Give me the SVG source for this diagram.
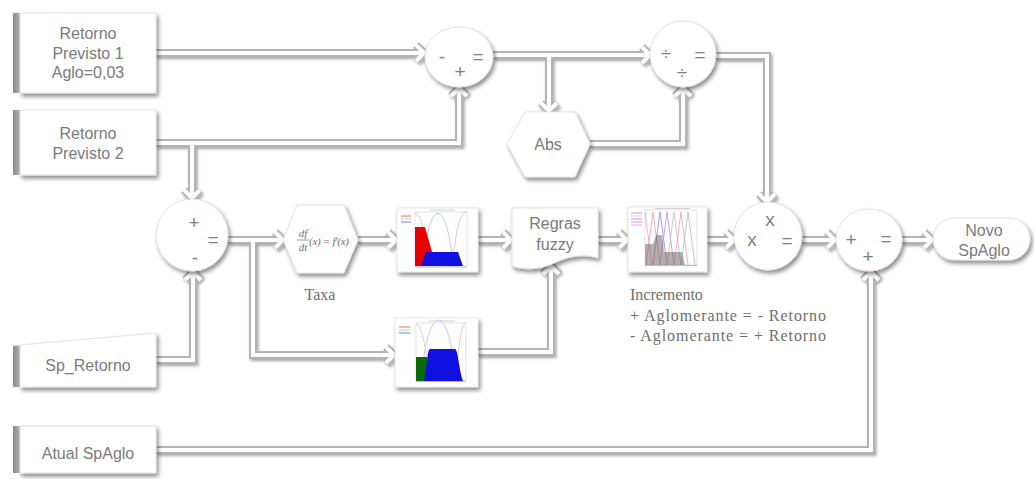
<svg xmlns="http://www.w3.org/2000/svg" width="1034" height="479" viewBox="0 0 1034 479">
<defs>
<style>
.t{font-family:"Liberation Sans",Arial,sans-serif;font-size:16px;fill:#7a7a7a;text-anchor:middle}
.sym{font-family:"Liberation Sans",Arial,sans-serif;font-size:19px;fill:#808080;text-anchor:middle}
.sf{font-family:"Liberation Serif","Times New Roman",serif;fill:#6e6e6e}
.node{fill:#fff;stroke:#e2e2e2;stroke-width:1;filter:url(#sh)}
.strip{fill:url(#lg)}
.pf{fill:#fff;stroke:#e0e0e0;stroke-width:0.8;filter:url(#sh)}
.ax{fill:none;stroke:#d0d0d0;stroke-width:0.6}
</style>
<filter id="sh" x="-20%" y="-20%" width="150%" height="150%">
<feDropShadow dx="2" dy="3" stdDeviation="2.2" flood-color="#000" flood-opacity="0.45"/>
</filter>
<filter id="psh" x="-5%" y="-5%" width="110%" height="110%">
<feDropShadow dx="1.5" dy="2" stdDeviation="1.8" flood-color="#000" flood-opacity="0.35"/>
</filter>
<linearGradient id="lg" x1="0" y1="0" x2="1" y2="0">
<stop offset="0" stop-color="#8a8a8a"/>
<stop offset="1" stop-color="#c8c8c8"/>
</linearGradient>
<g id="pipes" fill="none">
<path d="M156,53 H424"/><path d="M416,45 L424,53 L416,61"/>
<path d="M156,143 H459 V88"/><path d="M451,96 L459,88 L467,96"/>
<path d="M192,143 V198"/><path d="M184,190 L192,198 L200,190"/>
<path d="M493,55 H650"/><path d="M642,47 L650,55 L642,63"/>
<path d="M549,55 V111"/><path d="M541,103 L549,111 L557,103"/>
<path d="M590,144 H683 V88"/><path d="M675,96 L683,88 L691,96"/>
<path d="M716,56 H767 V202"/><path d="M759,194 L767,202 L775,194"/>
<path d="M156,360 H193 V272"/><path d="M185,280 L193,272 L201,280"/>
<path d="M228,240 H283"/><path d="M275,232 L283,240 L275,248"/>
<path d="M253,240 V355 H394"/><path d="M386,347 L394,355 L386,363"/>
<path d="M358,240 H396"/><path d="M388,232 L396,240 L388,248"/>
<path d="M478,240 H511"/><path d="M503,232 L511,240 L503,248"/>
<path d="M478,352 H551 V266"/><path d="M543,274 L551,266 L559,274"/>
<path d="M598,240 H627"/><path d="M619,232 L627,240 L619,248"/>
<path d="M707,240 H734"/><path d="M726,232 L734,240 L726,248"/>
<path d="M802,240 H835"/><path d="M827,232 L835,240 L827,248"/>
<path d="M902,240 H932"/><path d="M924,232 L932,240 L924,248"/>
<path d="M156,450 H871 V272"/><path d="M863,280 L871,272 L879,280"/>
</g>
</defs>
<rect width="1034" height="479" fill="#fff"/>

<g id="connectors" stroke-linejoin="miter" stroke-linecap="butt">
<use href="#pipes" stroke="#b4b4b4" stroke-width="8" filter="url(#psh)"/>
<use href="#pipes" stroke="#ffffff" stroke-width="4"/>
</g>

<g id="n-rp1">
<rect class="strip" x="13" y="13" width="10" height="80"/>
<rect class="node" x="20" y="13" width="136" height="80"/>
<text class="t" x="88" y="39">Retorno</text>
<text class="t" x="88" y="59">Previsto 1</text>
<text class="t" x="88" y="78">Aglo=0,03</text>
</g>
<g id="n-rp2">
<rect class="strip" x="13" y="110" width="10" height="65"/>
<rect class="node" x="20" y="110" width="136" height="65"/>
<text class="t" x="88" y="139">Retorno</text>
<text class="t" x="88" y="159">Previsto 2</text>
</g>
<g id="n-spr">
<polygon class="strip" points="13,346 23,345 23,387 13,387"/>
<polygon class="node" points="20,345 156,333 156,387 20,387"/>
<text class="t" x="88" y="371">Sp_Retorno</text>
</g>
<g id="n-atual">
<rect class="strip" x="13" y="426" width="10" height="47"/>
<rect class="node" x="20" y="426" width="136" height="47"/>
<text class="t" x="88" y="459">Atual SpAglo</text>
</g>

<g id="c-sub">
<ellipse class="node" cx="459" cy="57" rx="34" ry="30"/>
<text class="sym" x="442" y="63">-</text>
<text class="sym" x="460" y="78">+</text>
<text class="sym" x="478" y="63">=</text>
</g>
<g id="c-div">
<ellipse class="node" cx="683" cy="54" rx="33" ry="33"/>
<text class="sym" x="666" y="60">÷</text>
<text class="sym" x="682" y="79">÷</text>
<text class="sym" x="700" y="61">=</text>
</g>
<g id="n-abs">
<polygon class="node" points="507,144 525,112 575,112 590,144 575,177 525,177"/>
<text class="t" x="548" y="150">Abs</text>
</g>
<g id="c-err">
<ellipse class="node" cx="192" cy="235" rx="36" ry="36"/>
<text class="sym" x="194" y="229">+</text>
<text class="sym" x="213" y="246">=</text>
<text class="sym" x="195" y="264">-</text>
</g>
<g id="n-deriv">
<polygon class="node" points="283,240 297,205 344,205 358,240 344,273 297,273"/>
<g class="sf" font-style="italic" font-size="11">
<text x="303" y="237" text-anchor="middle">df</text>
<line x1="297" y1="240" x2="309" y2="240" stroke="#6e6e6e" stroke-width="0.7"/>
<text x="303" y="251" text-anchor="middle">dt</text>
<text x="309" y="245" textLength="40">(x) = f′(x)</text>
</g>
</g>
<text id="l-taxa" class="sf" x="320" y="300" font-size="16" text-anchor="middle">Taxa</text>

<g id="plot1">
<rect class="pf" x="397" y="208" width="81" height="64"/>
<rect class="ax" x="415" y="212" width="52" height="54"/>
<line x1="401" y1="216" x2="411" y2="216" stroke="#e44" stroke-width="0.8"/>
<line x1="401" y1="219" x2="411" y2="219" stroke="#9c9" stroke-width="0.8"/>
<line x1="401" y1="222" x2="411" y2="222" stroke="#55e" stroke-width="0.8"/>
<line x1="430" y1="210" x2="455" y2="210" stroke="#bbb" stroke-width="0.7"/>
<path d="M423,266 C429,196 447,196 453,266" fill="none" stroke="#b8c2ee" stroke-width="0.9"/>
<path d="M452,266 C457,222 461,212 467,212" fill="none" stroke="#eebcbc" stroke-width="0.9"/>
<path d="M415,213 C421,213 425,236 430,262" fill="none" stroke="#eebcbc" stroke-width="0.9"/>
<polygon points="415,266 415,227 425,227 432,252 432,266" fill="#e80000"/>
<path d="M421,266 L426,252 H458 L463,266 Z" fill="#1010e0"/>
<line x1="415" y1="267" x2="467" y2="267" stroke="#999" stroke-width="0.6"/>
</g>

<g id="n-regras">
<path class="node" d="M512,208 H598 V258 C582,253 566,257 552,264 C538,270 523,270 512,266 Z"/>
<text class="t" x="555" y="229">Regras</text>
<text class="t" x="555" y="250">fuzzy</text>
</g>

<g id="plot2">
<rect class="pf" x="628" y="207" width="79" height="65"/>
<rect class="ax" x="645" y="210" width="52" height="55"/>
<line x1="631" y1="213" x2="642" y2="213" stroke="#f6a" stroke-width="0.8"/>
<line x1="631" y1="216" x2="642" y2="216" stroke="#fb8" stroke-width="0.8"/>
<line x1="631" y1="219" x2="642" y2="219" stroke="#88e" stroke-width="0.8"/>
<line x1="631" y1="222" x2="642" y2="222" stroke="#b7e" stroke-width="0.8"/>
<line x1="631" y1="225" x2="642" y2="225" stroke="#f8f" stroke-width="0.8"/>
<line x1="655" y1="208.5" x2="690" y2="208.5" stroke="#bbb" stroke-width="0.7"/>
<g fill="none" stroke-width="0.8">
<path d="M645,212 L652,265" stroke="#f9b"/>
<path d="M646,265 L653,212 L660,265" stroke="#e99"/>
<path d="M653,265 L660,212 L667,265" stroke="#88e"/>
<path d="M660,265 L667,212 L674,265" stroke="#b8e"/>
<path d="M667,265 L674,212 L681,265" stroke="#bbb"/>
<path d="M674,265 L681,212 L688,265" stroke="#e9c"/>
<path d="M681,265 L688,212 L695,265" stroke="#9c9"/>
</g>
<polygon points="645,265 645,244 653,244 656,235 662,235 664,252 682,252 685,265" fill="#7a6a6a" fill-opacity="0.55"/>
<line x1="645" y1="265.5" x2="697" y2="265.5" stroke="#999" stroke-width="0.6"/>
</g>

<g id="plot3">
<rect class="pf" x="395" y="318" width="83" height="69"/>
<rect class="ax" x="416" y="323" width="50" height="58"/>
<line x1="399" y1="327" x2="410" y2="327" stroke="#e44" stroke-width="0.8"/>
<line x1="399" y1="330" x2="410" y2="330" stroke="#9c9" stroke-width="0.8"/>
<line x1="399" y1="333" x2="410" y2="333" stroke="#55e" stroke-width="0.8"/>
<line x1="428" y1="321" x2="455" y2="321" stroke="#bbb" stroke-width="0.7"/>
<path d="M421,381 C428,300 449,300 456,381" fill="none" stroke="#b8c2ee" stroke-width="0.9"/>
<path d="M455,381 C460,335 462,323 466,323" fill="none" stroke="#eebcbc" stroke-width="0.9"/>
<path d="M416,324 C421,324 424,342 428,360" fill="none" stroke="#eebcbc" stroke-width="0.9"/>
<rect x="416" y="357" width="11" height="24" fill="#0a6a0a"/>
<path d="M424,381 C427,370 427,349 430,349 H455 C458,349 459,370 463,381 Z" fill="#1010e0"/>
<line x1="416" y1="381.5" x2="466" y2="381.5" stroke="#999" stroke-width="0.6"/>
</g>

<g id="l-incr" class="sf" font-size="16">
<text x="630" y="300">Incremento</text>
<text x="630" y="321" textLength="196">+ Aglomerante = - Retorno</text>
<text x="630" y="341" textLength="196">- Aglomerante = + Retorno</text>
</g>

<g id="c-mul">
<ellipse class="node" cx="768" cy="236" rx="34" ry="34"/>
<text class="sym" x="752" y="246" font-size="16">x</text>
<text class="sym" x="770" y="226" font-size="16">x</text>
<text class="sym" x="787" y="247">=</text>
</g>
<g id="c-add">
<ellipse class="node" cx="869" cy="240" rx="33" ry="31"/>
<text class="sym" x="851" y="246">+</text>
<text class="sym" x="868" y="263">+</text>
<text class="sym" x="886" y="245">=</text>
</g>
<g id="n-novo">
<rect class="node" x="933" y="218" width="97" height="42" rx="21" ry="21"/>
<text class="t" x="984" y="236">Novo</text>
<text class="t" x="984" y="256">SpAglo</text>
</g>
</svg>
